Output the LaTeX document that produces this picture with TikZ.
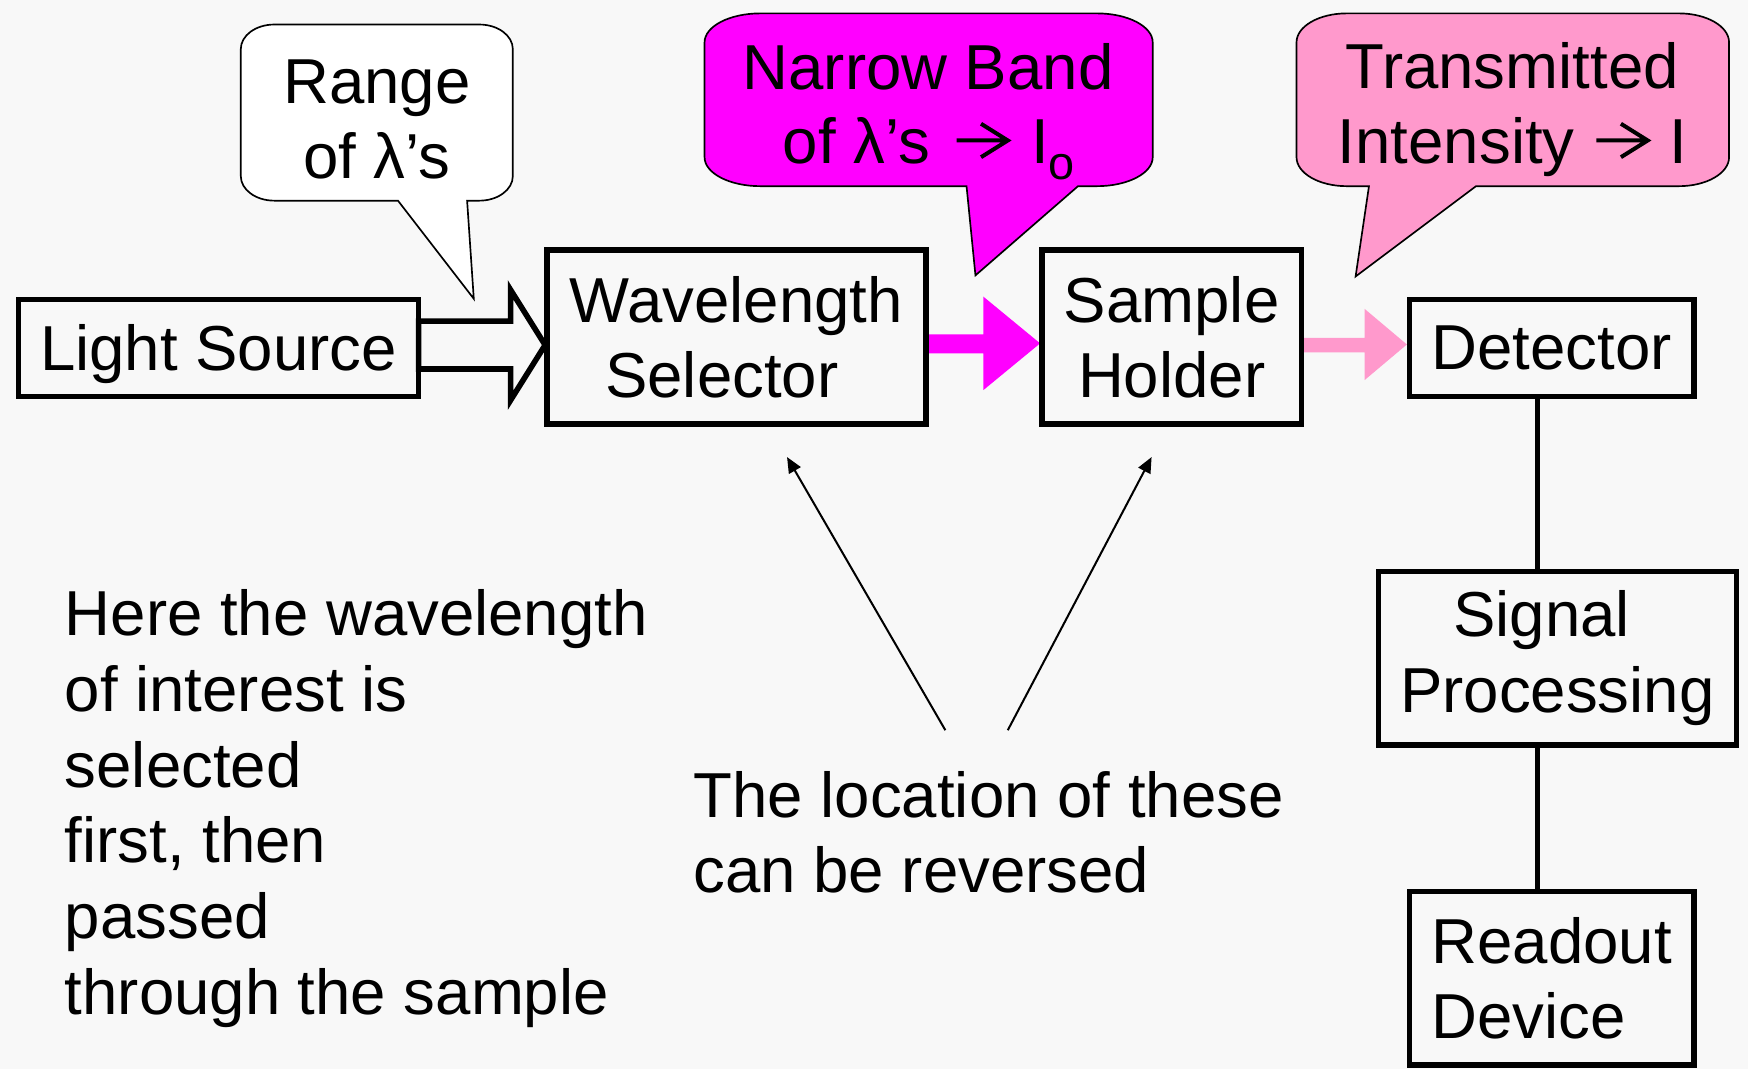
\documentclass[tikz,border=0pt]{standalone}
\usepackage{fontspec}
\setmainfont{Liberation Sans}
\usetikzlibrary{arrows.meta}
\definecolor{bgc}{HTML}{F8F8F8}
\definecolor{magc}{HTML}{FF00FF}
\definecolor{pinkc}{HTML}{FF99CC}
\newcommand\dgfont{\fontsize{57}{68}\selectfont}
\begin{document}
\begin{tikzpicture}[x=1pt,y=-1pt,
  box/.style={draw=black,line width=5pt,inner sep=0pt,align=center,font=\dgfont},
  txt/.style={inner sep=0pt,font=\dgfont},
  callout/.style={draw=black,line width=1.5pt,line join=miter},
  glypharrow/.style={draw=black,line width=3.6pt,line join=miter},
  thinarrow/.style={line width=1.8pt,-{Triangle[length=14pt,width=12pt]}},
  hollow/.style={draw=black,line width=5pt,fill=bgc,line join=miter}]
\fill[bgc] (0,0) rectangle (1568,959);
\useasboundingbox (0,0) rectangle (1568,959);

% callouts
\path[callout,fill=white] (246,22) -- (430,22) .. controls (446.6,22) and (460,31.9) .. (460,44) -- (460,158) .. controls (460,170.1) and (446.6,180) .. (430,180) -- (419,180) -- (425,268) -- (357,180) -- (246,180) .. controls (229.4,180) and (216,170.1) .. (216,158) -- (216,44) .. controls (216,31.9) and (229.4,22) .. (246,22) -- cycle;
\path[callout,fill=magc] (682,12) -- (984,12) .. controls (1011.6,12) and (1034,23.6) .. (1034,38) -- (1034,141) .. controls (1034,155.4) and (1011.6,167) .. (984,167) -- (967,167) -- (875,247) -- (867,167) -- (682,167) .. controls (654.4,167) and (632,155.4) .. (632,141) -- (632,38) .. controls (632,23.6) and (654.4,12) .. (682,12) -- cycle;
\path[callout,fill=pinkc] (1208,12) -- (1506,12) .. controls (1530.8,12) and (1551,23.6) .. (1551,38) -- (1551,141) .. controls (1551,155.4) and (1530.8,167) .. (1506,167) -- (1324,167) -- (1216,248) -- (1228,167) -- (1208,167) .. controls (1183.2,167) and (1163,155.4) .. (1163,141) -- (1163,38) .. controls (1163,23.6) and (1183.2,12) .. (1208,12) -- cycle;

\node[txt,anchor=base] (c1a) at (338,93) {Range};
\node[txt,anchor=base] (c1b) at (338,160) {of λ’s};
\node[txt,anchor=base] (c2a) at (832.5,80) {Narrow Band};
\node[txt,anchor=base west] (c2b) at (702,147) {of λ’s};
\draw[glypharrow] (858,126) -- (902,126) (880,111) -- (904,126) -- (880,141);
\node[txt,anchor=base west] (c2c) at (925,147) {I};
\node[txt,anchor=base west,font=\fontsize{42}{42}\selectfont] (c2d) at (940,161) {o};
\node[txt,anchor=base] (c3a) at (1356.5,79) {Transmitted};
\node[txt,anchor=base west] (c3b) at (1200,147) {Intensity};
\draw[glypharrow] (1432,126) -- (1476,126) (1454,111) -- (1478,126) -- (1454,141);
\node[txt,anchor=base west] (c3c) at (1497,147) {I};

% block arrows
\path[hollow] (375.5,288) -- (458,288) -- (458,260) -- (489,309.5) -- (458,359) -- (458,331) -- (375.5,331) -- cycle;
\fill[magc] (833,300) -- (882,300) -- (882,266) -- (933,308) -- (882,350) -- (882,317) -- (833,317) -- cycle;
\fill[pinkc] (1167,303) -- (1224,303) -- (1224,277) -- (1262,309) -- (1224,341) -- (1224,316) -- (1167,316) -- cycle;

% boxes
\node[box,minimum width=359,minimum height=87,text depth=0pt] (ls) at (196,312) {Light Source};
\node[box,minimum width=340,minimum height=156] (ws) at (660.5,302.5) {Wavelength\\Selector\hspace*{26pt}};
\node[box,minimum width=233,minimum height=156] (sh) at (1051,302.5) {Sample\\Holder};
\node[box,minimum width=255,minimum height=87,text depth=0pt] (det) at (1392,312) {Detector};
\node[box,minimum width=321,minimum height=156] (sp) at (1397,590.5) {Signal\hspace*{28pt}\\Processing};
\node[box,minimum width=255,minimum height=156,align=left] (rd) at (1392,877.5) {Readout\\Device};

\coordinate (vx) at (1379,0);
\draw[line width=5pt] (vx |- det.south) -- (vx |- sp.north);
\draw[line width=5pt] (vx |- sp.south) -- (vx |- rd.north);

% notes
\node[txt,anchor=base west] (l1) at (58,570) {Here the wavelength};
\node[txt,anchor=base west] (l2) at (58,638) {of interest is};
\node[txt,anchor=base west] (l3) at (58,706) {selected};
\node[txt,anchor=base west] (l4) at (58,774) {first, then};
\node[txt,anchor=base west] (l5) at (58,842) {passed};
\node[txt,anchor=base west] (l6) at (58,910) {through the sample};

\node[txt,anchor=base west] (m1) at (622,733) {The location of these};
\node[txt,anchor=base west] (m2) at (622,801) {can be reversed};

\coordinate (t1) at (848,655);
\coordinate (h1) at (706,410);
\coordinate (t2) at (904,655);
\coordinate (h2) at (1033,410);
\draw[thinarrow] (t1) -- (h1);
\draw[thinarrow] (t2) -- (h2);
\end{tikzpicture}
\end{document}
